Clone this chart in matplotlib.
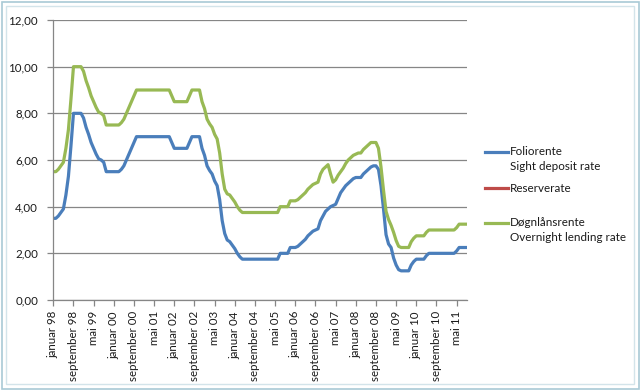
import matplotlib
matplotlib.use("Agg")
import matplotlib.pyplot as plt
from matplotlib.lines import Line2D
from matplotlib.patches import Rectangle
from matplotlib.ticker import FuncFormatter

# ---------------------
# Data (monthly, januar 98 - september 11)
# ---------------------
tick_labels = ["januar 98", "september 98", "mai 99", "januar 00", "september 00",
               "mai 01", "januar 02", "september 02", "mai 03", "januar 04",
               "september 04", "mai 05", "januar 06", "september 06", "mai 07",
               "januar 08", "september 08", "mai 09", "januar 10", "september 10",
               "mai 11"]

foliorente = [
    3.5, 3.5, 3.6, 3.75, 3.9, 4.5, 5.3, 6.6, 8.0, 8.0, 8.0, 8.0,          # 1998
    7.8, 7.4, 7.1, 6.75, 6.5, 6.25, 6.05, 6.0, 5.9, 5.5, 5.5, 5.5,        # 1999
    5.5, 5.5, 5.5, 5.6, 5.75, 6.0, 6.25, 6.5, 6.75, 7.0, 7.0, 7.0,        # 2000
    7.0, 7.0, 7.0, 7.0, 7.0, 7.0, 7.0, 7.0, 7.0, 7.0, 7.0, 6.75,          # 2001
    6.5, 6.5, 6.5, 6.5, 6.5, 6.5, 6.75, 7.0, 7.0, 7.0, 7.0, 6.5,          # 2002
    6.2, 5.75, 5.55, 5.4, 5.1, 4.9, 4.3, 3.4, 2.85, 2.57, 2.5, 2.35,      # 2003
    2.2, 2.0, 1.85, 1.75, 1.75, 1.75, 1.75, 1.75, 1.75, 1.75, 1.75, 1.75, # 2004
    1.75, 1.75, 1.75, 1.75, 1.75, 1.75, 2.0, 2.0, 2.0, 2.0, 2.25, 2.25,   # 2005
    2.25, 2.3, 2.4, 2.5, 2.6, 2.75, 2.85, 2.95, 3.0, 3.05, 3.4, 3.6,      # 2006
    3.8, 3.9, 4.0, 4.05, 4.1, 4.35, 4.6, 4.75, 4.9, 5.0, 5.1, 5.2,        # 2007
    5.25, 5.25, 5.25, 5.4, 5.5, 5.6, 5.7, 5.75, 5.75, 5.6, 4.9, 3.9,      # 2008
    2.8, 2.4, 2.25, 1.8, 1.5, 1.3, 1.25, 1.25, 1.25, 1.25, 1.5, 1.65,     # 2009
    1.75, 1.75, 1.75, 1.75, 1.9, 2.0, 2.0, 2.0, 2.0, 2.0, 2.0, 2.0,       # 2010
    2.0, 2.0, 2.0, 2.0, 2.1, 2.25, 2.25, 2.25, 2.25,                      # 2011
]

dognlansrente = [
    5.5, 5.5, 5.6, 5.75, 5.9, 6.5, 7.3, 8.6, 10.0, 10.0, 10.0, 10.0,      # 1998
    9.8, 9.4, 9.1, 8.75, 8.5, 8.25, 8.05, 8.0, 7.9, 7.5, 7.5, 7.5,        # 1999
    7.5, 7.5, 7.5, 7.6, 7.75, 8.0, 8.25, 8.5, 8.75, 9.0, 9.0, 9.0,        # 2000
    9.0, 9.0, 9.0, 9.0, 9.0, 9.0, 9.0, 9.0, 9.0, 9.0, 9.0, 8.75,          # 2001
    8.5, 8.5, 8.5, 8.5, 8.5, 8.5, 8.75, 9.0, 9.0, 9.0, 9.0, 8.5,          # 2002
    8.2, 7.75, 7.55, 7.4, 7.1, 6.9, 6.3, 5.4, 4.75, 4.55, 4.5, 4.35,      # 2003
    4.2, 4.0, 3.85, 3.75, 3.75, 3.75, 3.75, 3.75, 3.75, 3.75, 3.75, 3.75, # 2004
    3.75, 3.75, 3.75, 3.75, 3.75, 3.75, 4.0, 4.0, 4.0, 4.0, 4.25, 4.25,   # 2005
    4.25, 4.3, 4.4, 4.5, 4.6, 4.75, 4.85, 4.95, 5.0, 5.05, 5.4, 5.6,      # 2006
    5.7, 5.8, 5.4, 5.05, 5.15, 5.35, 5.5, 5.65, 5.85, 6.0, 6.1, 6.2,      # 2007
    6.25, 6.3, 6.3, 6.45, 6.55, 6.65, 6.75, 6.75, 6.75, 6.5, 5.7, 4.7,    # 2008
    3.8, 3.45, 3.2, 2.9, 2.55, 2.3, 2.25, 2.25, 2.25, 2.25, 2.5, 2.65,    # 2009
    2.75, 2.75, 2.75, 2.75, 2.9, 3.0, 3.0, 3.0, 3.0, 3.0, 3.0, 3.0,       # 2010
    3.0, 3.0, 3.0, 3.0, 3.1, 3.25, 3.25, 3.25, 3.25,                      # 2011
]

reserverate = []  # no values in the period shown

months = list(range(len(foliorente)))
tick_pos = list(range(0, len(foliorente), 8))[:len(tick_labels)]

BLUE = "#4a7ebb"
RED = "#be4b48"
GREEN = "#98b954"
GRID = "#868686"
TEXT = "#1a1a1a"

plt.rcParams["font.family"] = ["Lato", "DejaVu Sans"]

fig = plt.figure(figsize=(6.4, 3.9), dpi=100)
ax = fig.add_axes([53.3 / 640, 1 - 300 / 390, (466.7 - 53.3) / 640, 280 / 390])

ax.plot(months, foliorente, color=BLUE, lw=2.3, solid_joinstyle="round")
ax.plot(list(range(len(reserverate))), reserverate, color=RED, lw=2.3)
ax.plot(months, dognlansrente, color=GREEN, lw=2.3, solid_joinstyle="round")

ax.set_xlim(0, len(foliorente) - 1)
ax.set_ylim(0, 12)
ax.set_yticks(range(0, 13, 2))
ax.yaxis.set_major_formatter(FuncFormatter(lambda v, p: f"{v:.2f}".replace(".", ",")))
ax.set_xticks(tick_pos)
ax.set_xticklabels(tick_labels, rotation=90)

ax.grid(axis="y", color=GRID, lw=0.9)
ax.set_axisbelow(True)
for side in ["top", "right"]:
    ax.spines[side].set_visible(False)
for side in ["left", "bottom"]:
    ax.spines[side].set_color(GRID)
    ax.spines[side].set_linewidth(0.9)
ax.tick_params(axis="both", colors=GRID, length=4, width=0.9, labelsize=8.3, labelcolor=TEXT)
ax.tick_params(axis="y", pad=7)
ax.tick_params(axis="x", pad=4)

# legend drawn by hand so the line sits next to the first text row
legend_rows = [
    (BLUE, "Foliorente", "Sight deposit rate", 152),
    (RED, "Reserverate", None, 188),
    (GREEN, "Døgnlånsrente", "Overnight lending rate", 223),
]
for color, line1, line2, ypx in legend_rows:
    y = 1 - ypx / 390
    fig.add_artist(Line2D([485 / 640, 508 / 640], [y, y], color=color, lw=2.3,
                          transform=fig.transFigure))
    fig.text(510 / 640, y, line1, fontsize=8.4, va="center", ha="left", color=TEXT)
    if line2:
        fig.text(510 / 640, y - 14.5 / 390, line2, fontsize=8.4, va="center", ha="left",
                 color=TEXT)

# chart frame
fig.add_artist(Rectangle((1.5 / 640, 1.5 / 390), 637 / 640, 387 / 390, fill=False,
                         ec="#a9cad6", lw=1.2, transform=fig.transFigure))
fig.add_artist(Rectangle((6 / 640, 6 / 390), 628 / 640, 378 / 390, fill=False,
                         ec="#d3e4ea", lw=1.0, transform=fig.transFigure))

fig.savefig("out.png", dpi=100)
plt.close(fig)
